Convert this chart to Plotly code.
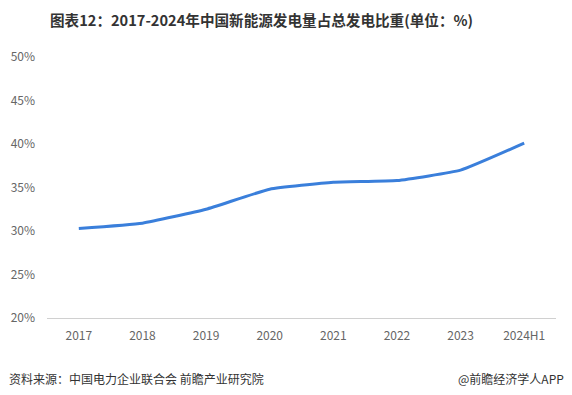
import plotly.graph_objects as go

years = ["2017", "2018", "2019", "2020", "2021", "2022", "2023", "2024H1"]
share = [30.3, 30.9, 32.5, 34.8, 35.6, 35.8, 37.0, 40.1]
y_ticks = [20, 25, 30, 35, 40, 45, 50]

font_cjk = "Noto Sans CJK SC"

W, H = 572, 395
ML, MR, MT, MB = 47, 16, 57, 77
pw = W - ML - MR
ph = H - MT - MB


def px(x):
    return (x - ML) / pw


def py(y_from_top):
    return (H - y_from_top - MB) / ph


fig = go.Figure()
fig.add_trace(go.Scatter(
    x=years, y=share, mode="lines",
    line=dict(color="#3a7fdb", width=3, shape="spline", smoothing=0.4),
    hoverinfo="x+y",
))

fig.update_layout(
    width=W, height=H,
    margin=dict(l=ML, r=MR, t=MT, b=MB, autoexpand=False),
    paper_bgcolor="white", plot_bgcolor="white",
    showlegend=False,
    font=dict(family=font_cjk, color="#666666", size=12),
    xaxis=dict(
        type="category", range=[-0.5, 7.5],
        showgrid=False, zeroline=False,
        showline=True, linecolor="#d0d0d0", linewidth=1,
        ticks="", ticklabelstandoff=7,
        tickfont=dict(size=12, color="#666666"),
    ),
    yaxis=dict(
        range=[20, 50], tickvals=y_ticks,
        ticktext=[f"{v}%" for v in y_ticks],
        showgrid=False, zeroline=False, showline=False,
        ticks="", ticklabelstandoff=11,
        tickfont=dict(size=12, color="#666666"),
    ),
    annotations=[
        dict(text="<b>图表12：2017-2024年中国新能源发电量占总发电比重(单位：%)</b>",
             x=px(261), y=py(20), xref="paper", yref="paper", showarrow=False,
             xanchor="center", yanchor="middle",
             font=dict(size=14.6, color="#333333", family=font_cjk)),
        dict(text="资料来源：中国电力企业联合会 前瞻产业研究院",
             x=px(7), y=py(378), xref="paper", yref="paper", showarrow=False,
             xanchor="left", yanchor="middle",
             font=dict(size=12, color="#333333", family=font_cjk)),
        dict(text="@前瞻经济学人APP",
             x=px(566), y=py(378), xref="paper", yref="paper", showarrow=False,
             xanchor="right", yanchor="middle",
             font=dict(size=12, color="#333333", family=font_cjk)),
    ],
)

fig.write_html("out.html", config={"displayModeBar": False},
               post_script="document.body.style.margin='0';")
